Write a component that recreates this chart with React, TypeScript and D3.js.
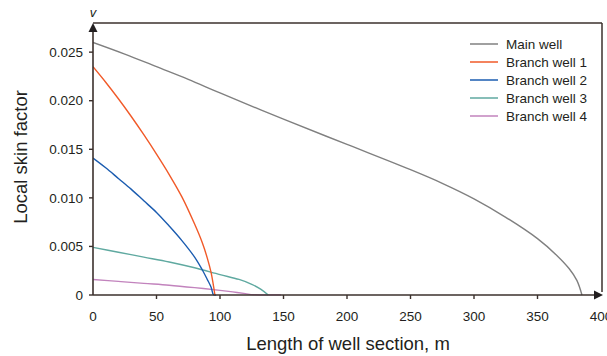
import React from "react";
import * as d3 from "d3";

const mainX = [0, 25, 50, 75, 100, 150, 200, 250, 275, 300, 325, 350, 365, 375, 381, 385];
const mainY = [0.026, 0.0248, 0.0235, 0.0222, 0.0208, 0.0181, 0.0155, 0.0129, 0.0115, 0.0099, 0.008, 0.0058, 0.0041, 0.0027, 0.0015, 0];
const b1X = [0, 10, 20, 30, 40, 50, 60, 70, 80, 86, 90, 93, 96];
const b1Y = [0.0235, 0.0219, 0.0202, 0.0184, 0.0165, 0.0145, 0.0124, 0.0101, 0.0073, 0.0054, 0.0038, 0.0023, 0];
const b2X = [0, 10, 20, 30, 40, 50, 60, 70, 80, 86, 90, 93, 95, 97];
const b2Y = [0.0141, 0.0131, 0.012, 0.0109, 0.0097, 0.0085, 0.0071, 0.0056, 0.0039, 0.0026, 0.0016, 0.0008, 0, 0];
const b3X = [0, 20, 40, 60, 80, 100, 115, 125, 132, 138];
const b3Y = [0.0049, 0.0044, 0.0039, 0.0034, 0.0028, 0.0021, 0.0016, 0.0011, 0.0006, 0];
const b4X = [0, 20, 40, 60, 80, 100, 110, 120, 126, 132, 148];
const b4Y = [0.0016, 0.0014, 0.0012, 0.00101, 0.00076, 0.00048, 0.00032, 0.00014, 0.00003, 0, 0];

const seriesNames = ["Main well", "Branch well 1", "Branch well 2", "Branch well 3", "Branch well 4"];
const seriesColors = ["#808080", "#f15a29", "#1b5cb0", "#5fa9a0", "#c283bd"];
const xTicks = [0, 50, 100, 150, 200, 250, 300, 350, 400];
const yTicks = [0, 0.005, 0.01, 0.015, 0.02, 0.025];
const yTickLabels = ["0", "0.005", "0.010", "0.015", "0.020", "0.025"];

const W = 607;
const H = 356;
const left = 93;
const right = 601;
const top = 23;
const bottom = 295;
const axisColor = "#3b302c";
const textColor = "#231f20";
const font = "'Liberation Sans', Arial, sans-serif";

export default function App() {
  const x = d3.scaleLinear().domain([0, 400]).range([left, right]);
  const y = d3.scaleLinear().domain([0, 0.028]).range([bottom, top]);
  const line = d3
    .line<[number, number]>()
    .x((d) => x(d[0]))
    .y((d) => Math.min(bottom, y(d[1])))
    .curve(d3.curveCatmullRom.alpha(0.5));

  const allSeries = [
    [mainX, mainY],
    [b1X, b1Y],
    [b2X, b2Y],
    [b3X, b3Y],
    [b4X, b4Y],
  ].map(([xs, ys]) => xs.map((v, i) => [v, ys[i]] as [number, number]));

  const drawOrder = [4, 3, 2, 1, 0];

  return (
    <svg
      width={W}
      height={H}
      style={{ position: "absolute", left: 0, top: 0, background: "#fff" }}
      fontFamily={font}
    >
      <rect width={W} height={H} fill="#fff" />
      <defs>
        <clipPath id="plotClip">
          <rect x={left} y={top} width={right - left} height={bottom - top + 0.8} />
        </clipPath>
      </defs>
      <g clipPath="url(#plotClip)">
        {drawOrder.map((i) => (
          <path
            key={i}
            d={line(allSeries[i]) || ""}
            fill="none"
            stroke={seriesColors[i]}
            strokeWidth={1.4}
          />
        ))}
      </g>
      <line x1={left} x2={x(400) + 1} y1={top} y2={top} stroke={axisColor} strokeWidth={1.5} />
      <line x1={x(400) + 1} x2={x(400) + 1} y1={top} y2={bottom - 3} stroke={axisColor} strokeWidth={1.5} />
      <line x1={left} x2={left} y1={bottom} y2={top + 4} stroke={axisColor} strokeWidth={1.6} />
      <path d={`M${left},${top} L${left - 4.5},${top + 9} L${left + 4.5},${top + 9} Z`} fill={textColor} />
      <line x1={left} x2={x(400) - 4} y1={bottom} y2={bottom} stroke={axisColor} strokeWidth={1.6} />
      <path d={`M${x(400) + 2},${bottom} L${x(400) - 7},${bottom - 4.5} L${x(400) - 7},${bottom + 4.5} Z`} fill={textColor} />
      {yTicks.map((t, i) => (
        <g key={"y" + i}>
          <line x1={left - 4} x2={left} y1={y(t)} y2={y(t)} stroke={axisColor} strokeWidth={1.4} />
          <text x={83} y={y(t)} dy="0.35em" textAnchor="end" fontSize={13.5} fill={textColor}>
            {yTickLabels[i]}
          </text>
        </g>
      ))}
      {xTicks.map((t, i) => (
        <g key={"x" + i}>
          {i > 0 && i < xTicks.length - 1 && (
            <line x1={x(t)} x2={x(t)} y1={bottom} y2={bottom + 4} stroke={axisColor} strokeWidth={1.4} />
          )}
          <text x={x(t)} y={316} dy="0.35em" textAnchor="middle" fontSize={13.5} fill={textColor}>
            {t}
          </text>
        </g>
      ))}
      <text x={x(0)} y={17} textAnchor="middle" fontSize={13} fontStyle="italic" fill={textColor}>
        v
      </text>
      <text
        transform={`translate(27,157) rotate(-90)`}
        textAnchor="middle"
        fontSize={18.5}
        fill={textColor}
      >
        Local skin factor
      </text>
      <text x={348} y={350} textAnchor="middle" fontSize={18.5} fill={textColor}>
        Length of well section, m
      </text>
      {seriesNames.map((n, i) => (
        <g key={n}>
          <line x1={470} x2={498} y1={44 + i * 18} y2={44 + i * 18} stroke={seriesColors[i]} strokeWidth={1.5} />
          <text x={506} y={44 + i * 18} dy="0.35em" fontSize={13.5} fill={textColor}>
            {n}
          </text>
        </g>
      ))}
    </svg>
  );
}
